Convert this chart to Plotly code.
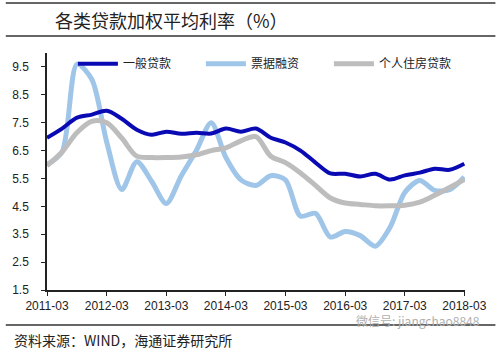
import plotly.graph_objects as go

dates = ["2011-03", "2011-06", "2011-09", "2011-12",
         "2012-03", "2012-06", "2012-09", "2012-12",
         "2013-03", "2013-06", "2013-09", "2013-12",
         "2014-03", "2014-06", "2014-09", "2014-12",
         "2015-03", "2015-06", "2015-09", "2015-12",
         "2016-03", "2016-06", "2016-09", "2016-12",
         "2017-03", "2017-06", "2017-09", "2017-12",
         "2018-03"]

general_loans = [6.96, 7.29, 7.68, 7.79, 7.93, 7.64, 7.25, 7.07,
                 7.18, 7.10, 7.14, 7.11, 7.29, 7.18, 7.29, 6.96,
                 6.79, 6.50, 6.07, 5.68, 5.67, 5.57, 5.67, 5.46,
                 5.61, 5.71, 5.85, 5.81, 6.03]

bill_financing = [6.00, 6.45, 9.60, 9.05, 6.80, 5.10, 6.10, 5.40,
                  4.60, 5.60, 6.50, 7.50, 6.25, 5.45, 5.25, 5.60,
                  5.45, 4.15, 4.25, 3.40, 3.60, 3.45, 3.07, 3.75,
                  5.00, 5.43, 5.07, 5.10, 5.55]

housing_loans = [5.96, 6.45, 7.15, 7.55, 7.50, 6.95, 6.30, 6.25,
                 6.25, 6.27, 6.35, 6.50, 6.60, 6.85, 7.00, 6.30,
                 6.07, 5.70, 5.25, 4.80, 4.62, 4.57, 4.52, 4.52,
                 4.54, 4.65, 4.90, 5.18, 5.46]

y_ticks = [1.5, 2.5, 3.5, 4.5, 5.5, 6.5, 7.5, 8.5, 9.5]
x_ticks = ["2011-03", "2012-03", "2013-03", "2014-03", "2015-03",
           "2016-03", "2017-03", "2018-03"]

title_text = "各类贷款加权平均利率（%）"
source_text = "资料来源：WIND，海通证券研究所"
watermark_text = "微信号: jiangchao8848"

cjk = "Noto Sans CJK SC"
latin = "Liberation Sans, Arial, sans-serif"

x_dates = [d + "-01" for d in dates]

fig = go.Figure()
fig.add_trace(go.Scatter(x=x_dates, y=bill_financing, name="票据融资", mode="lines",
                         line=dict(color="#9fc5e8", width=5, shape="spline", smoothing=0.8),
                         legendrank=2))
fig.add_trace(go.Scatter(x=x_dates, y=housing_loans, name="个人住房贷款", mode="lines",
                         line=dict(color="#bdbdbd", width=5, shape="spline", smoothing=0.9),
                         legendrank=3))
fig.add_trace(go.Scatter(x=x_dates, y=general_loans, name="一般贷款", mode="lines",
                         line=dict(color="#0a0ab4", width=4, shape="spline", smoothing=0.9),
                         legendrank=1))

fig.update_layout(
    width=499, height=354,
    margin=dict(l=42, r=31, t=53, b=64),
    paper_bgcolor="white", plot_bgcolor="white",
    showlegend=True,
    legend=dict(orientation="h", x=0.062, y=0.955, xanchor="left", yanchor="middle",
                font=dict(family=cjk, size=12, color="#222"),
                itemwidth=40, entrywidth=73, entrywidthmode="pixels",
                bgcolor="rgba(0,0,0,0)", traceorder="normal"),
    xaxis=dict(type="date", range=["2011-03-01", "2018-03-05"],
               tickvals=[d + "-01" for d in x_ticks], ticktext=x_ticks,
               showgrid=False, zeroline=False, showline=True, linecolor="#222", linewidth=1.5,
               ticks="outside", ticklen=4, tickcolor="#222",
               tickfont=dict(family=latin, size=12, color="#222")),
    yaxis=dict(range=[1.5, 10.0], tickvals=y_ticks,
               ticktext=[f"{v:.1f}" for v in y_ticks],
               showgrid=False, zeroline=False, showline=True, linecolor="#222", linewidth=1.5,
               ticks="outside", ticklen=4, tickcolor="#222", ticklabelstandoff=10,
               tickfont=dict(family=latin, size=12, color="#222")),
)

# title and footer lines
for yv in [3, 36, 325]:
    fig.add_shape(type="line", xref="paper", yref="paper",
                  x0=-42/426, x1=(499-42)/426, y0=(354-64-yv)/237, y1=(354-64-yv)/237,
                  line=dict(color="#333", width=1.5))

fig.add_annotation(text=title_text, xref="paper", yref="paper",
                   x=(48-42)/426, y=(354-64-20)/237, xanchor="left", yanchor="middle",
                   showarrow=False, font=dict(family=cjk, size=18, color="#222"))
fig.add_annotation(text=source_text, xref="paper", yref="paper",
                   x=(6-42)/426, y=(354-64-340)/237, xanchor="left", yanchor="middle",
                   showarrow=False, font=dict(family=cjk, size=14, color="#222"))
fig.add_annotation(text=watermark_text, xref="paper", yref="paper",
                   x=(485-42)/426, y=(354-64-320)/237, xanchor="right", yanchor="middle",
                   showarrow=False, font=dict(family=cjk, size=12, color="#b0b0b0"))

fig.write_html("out.html")
